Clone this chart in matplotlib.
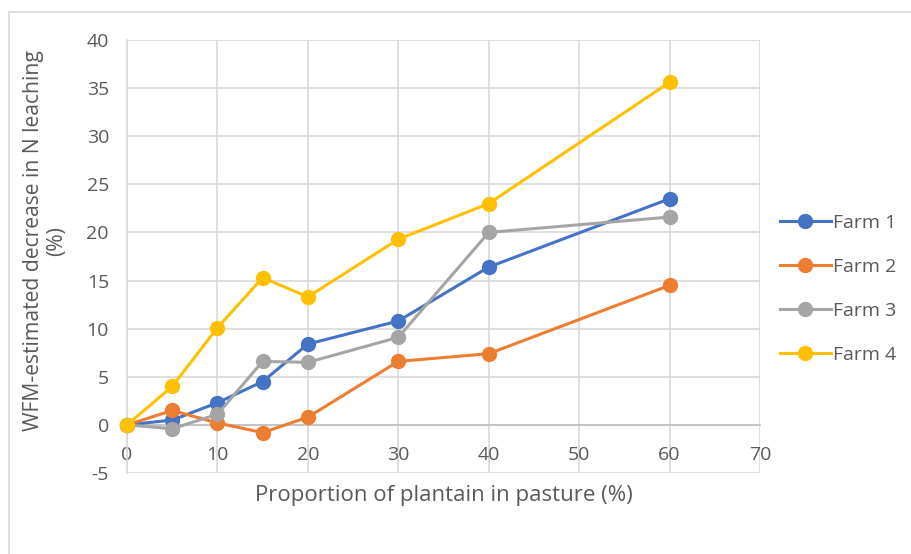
import matplotlib.pyplot as plt
from matplotlib.patches import Rectangle

# Data
plantain_pct = [0, 5, 10, 15, 20, 30, 40, 60]
farm1 = [0, 0.5, 2.3, 4.5, 8.4, 10.8, 16.4, 23.5]
farm2 = [0, 1.5, 0.2, -0.8, 0.8, 6.6, 7.4, 14.5]
farm3 = [0, -0.4, 1.1, 6.6, 6.5, 9.1, 20.0, 21.6]
farm4 = [0, 4.0, 10.1, 15.3, 13.3, 19.3, 23.0, 35.6]
farm_names = ["Farm 1", "Farm 2", "Farm 3", "Farm 4"]
farm_colors = ["#4472C4", "#ED7D31", "#A5A5A5", "#FFC000"]

plt.rcParams['font.family'] = ['Open Sans', 'DejaVu Sans']
plt.rcParams['axes.unicode_minus'] = False
text_color = "#595959"
grid_color = "#D9D9D9"

fig = plt.figure(figsize=(9.11, 5.54), dpi=100)
ax = fig.add_axes([127 / 911, 1 - 473 / 554, (760 - 127) / 911, (473 - 40) / 554])

# outer chart border
fig.patches.append(Rectangle((9 / 911, -0.1), 1.2, 1 - 12 / 554 + 0.1,
                             transform=fig.transFigure, fill=False,
                             edgecolor="#D9D9D9", linewidth=1.2, zorder=0))

for name, values, color in zip(farm_names, [farm1, farm2, farm3, farm4], farm_colors):
    ax.plot(plantain_pct, values, color=color, linewidth=2.2, marker="o",
            markersize=10, label=name, clip_on=False, zorder=3)

ax.set_xlim(0, 70)
ax.set_ylim(-5, 40)
ax.set_xticks(range(0, 71, 10))
ax.set_yticks(range(-5, 41, 5))
ax.grid(True, color=grid_color, linewidth=1.2)
ax.set_axisbelow(True)

for side in ["top", "right"]:
    ax.spines[side].set_visible(False)
ax.spines["bottom"].set_position(("data", 0))
ax.spines["bottom"].set_color("#BFBFBF")
ax.spines["left"].set_color("#D9D9D9")
ax.spines["bottom"].set_linewidth(1.2)
ax.spines["left"].set_linewidth(1.2)

ax.tick_params(axis="x", length=0, pad=15, labelsize=14, labelcolor=text_color)
ax.tick_params(axis="y", length=0, pad=13, labelsize=14, labelcolor=text_color)

fig.text(443.5 / 911, 1 - 495 / 554, "Proportion of plantain in pasture (%)",
         ha="center", va="center", fontsize=16, color=text_color)
fig.text(45 / 911, 1 - 241 / 554, "WFM-estimated decrease in N leaching\n(%)",
         ha="center", va="center", rotation=90, fontsize=15.2, color=text_color,
         linespacing=1.15)

fig.legend(loc="upper left", bbox_to_anchor=(780 / 911, 1 - 214 / 554),
           frameon=False, fontsize=14, labelcolor=text_color,
           handlelength=2.6, handletextpad=0.15, labelspacing=1.33,
           borderaxespad=0, borderpad=0)

fig.savefig("out.png", dpi=100)
